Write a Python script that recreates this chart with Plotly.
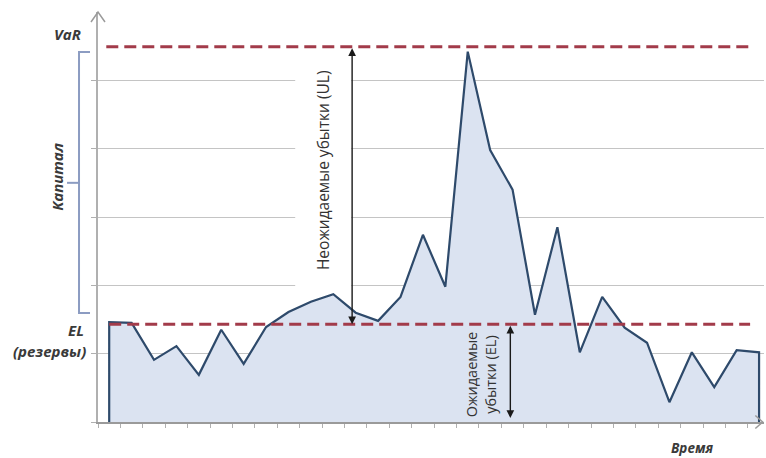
import plotly.graph_objects as go

# Loss per time period
periods = list(range(1, 31))
losses = [1.46, 1.45, 0.91, 1.11, 0.69, 1.35, 0.85, 1.39, 1.61, 1.76,
          1.87, 1.60, 1.48, 1.83, 2.74, 1.98, 5.42, 3.98, 3.40, 1.57,
          2.85, 1.02, 1.83, 1.38, 1.16, 0.29, 1.02, 0.51, 1.05, 1.02]

# Reference levels
var_level = 5.49   # VaR
el_level = 1.43    # expected loss (EL)
grid_levels = [0, 1, 2, 3, 4, 5]

FONT = "Open Sans"
AXIS_GREY = "#9a9a9a"
DASH_RED = "#a23b4a"
BRACKET = "#8c9cc2"

fig = go.Figure()

# Loss curve, closed down to zero at both ends
fig.add_trace(go.Scatter(
    x=[periods[0]] + periods + [periods[-1]],
    y=[0] + losses + [0],
    mode="lines",
    fill="tozeroy",
    fillcolor="#dbe3f1",
    line=dict(color="#2e4a6b", width=2.2),
    hoverinfo="skip",
    showlegend=False,
))

shapes = []

# White box behind the UL caption
shapes.append(dict(type="rect", xref="x", yref="y", x0=9.3, x1=11.8,
                   y0=1.93, y1=5.33, fillcolor="white",
                   line=dict(width=0), layer="between"))

# VaR and EL dashed levels
for lvl, x0, x1 in [(var_level, 0.87, 29.7), (el_level, 1.0, 29.6)]:
    shapes.append(dict(type="line", xref="x", yref="y", x0=x0, x1=x1,
                       y0=lvl, y1=lvl, layer="above",
                       line=dict(color=DASH_RED, width=3, dash="12px,6px")))

# Capital bracket on the left
bx, bs, bm = -0.0285, -0.012, -0.0465
top, bot, mid = 5.415, 1.595, 3.50
shapes.append(dict(type="path", xref="paper", yref="y",
                   path=f"M{bs},{top} L{bx},{top} L{bx},{bot} L{bs},{bot}",
                   line=dict(color=BRACKET, width=2)))
shapes.append(dict(type="line", xref="paper", yref="y",
                   x0=bm, x1=bx, y0=mid, y1=mid,
                   line=dict(color=BRACKET, width=2)))

# Open arrowheads at the ends of both axes
shapes.append(dict(type="path", xref="paper", yref="paper",
                   xsizemode="pixel", ysizemode="pixel",
                   xanchor=0, yanchor=1,
                   path="M-7,-10 L0,0 L7,-10",
                   line=dict(color=AXIS_GREY, width=1.5)))
shapes.append(dict(type="path", xref="paper", yref="paper",
                   path="M0.987,0.016 L0.998,0 L0.987,-0.016",
                   line=dict(color=AXIS_GREY, width=1.5)))

annotations = []

# Double-headed arrows for UL and EL
for ax_x, y_top, y_bot in [(11.84, var_level, el_level), (18.9, el_level, 0.06)]:
    annotations.append(dict(x=ax_x, y=y_bot, ax=ax_x, ay=y_top,
                            xref="x", yref="y", axref="x", ayref="y",
                            text="", showarrow=True, arrowside="end+start",
                            arrowhead=2, startarrowhead=2,
                            arrowsize=1.1, startarrowsize=1.1,
                            arrowwidth=1.4, arrowcolor="#1a1a1a",
                            standoff=0, startstandoff=0))

annotations.append(dict(x=10.55, y=3.69, xref="x", yref="y",
                        text="Неожидаемые убытки (UL)", textangle=-90,
                        showarrow=False,
                        font=dict(family=FONT, size=15.5, color="#333333")))
annotations.append(dict(x=17.6, y=0.70, xref="x", yref="y",
                        text="Ожидаемые<br>убытки (EL)", textangle=-90,
                        showarrow=False,
                        font=dict(family=FONT, size=14.5, color="#333333")))

label_font = dict(family=FONT, size=15, color="#3a3a3a")
annotations.append(dict(x=-0.0225, y=5.68, xref="paper", yref="y",
                        text="<b><i>VaR</i></b>", xanchor="right",
                        showarrow=False, font=label_font))
annotations.append(dict(x=-0.018, y=1.35, xref="paper", yref="y",
                        text="<b><i>EL</i></b>", xanchor="right",
                        showarrow=False, font=label_font))
annotations.append(dict(x=-0.015, y=1.04, xref="paper", yref="y",
                        text="<b><i>(резервы)</i></b>", xanchor="right",
                        showarrow=False, font=label_font))
annotations.append(dict(x=-0.0796, y=3.59, xref="paper", yref="y",
                        text="<b><i>Капитал</i></b>", textangle=-90,
                        showarrow=False, font=label_font))
annotations.append(dict(x=27.0, y=-0.0634, xref="x", yref="paper",
                        text="<b><i>Время</i></b>", yanchor="middle",
                        showarrow=False,
                        font=dict(family=FONT, size=13.5, color="#3a3a3a")))

fig.update_layout(
    width=766, height=458,
    margin=dict(l=98, r=2, t=12, b=36),
    paper_bgcolor="white",
    plot_bgcolor="white",
    shapes=shapes,
    annotations=annotations,
    xaxis=dict(
        range=[0.5, 30.22],
        showgrid=False, zeroline=False,
        showline=True, linecolor=AXIS_GREY, linewidth=2,
        ticks="outside", ticklen=4, tickcolor="#b0b0b0", tickwidth=1,
        tickvals=[p - 0.5 for p in periods],
        showticklabels=False,
    ),
    yaxis=dict(
        range=[0, 6],
        showgrid=True, gridcolor="#c4c4c4", gridwidth=1,
        zeroline=False,
        showline=True, linecolor="#b0b0b0", linewidth=2,
        ticks="outside", ticklen=5, tickcolor="#b0b0b0",
        tickvals=grid_levels,
        showticklabels=False,
    ),
)

fig.write_html("out.html")
